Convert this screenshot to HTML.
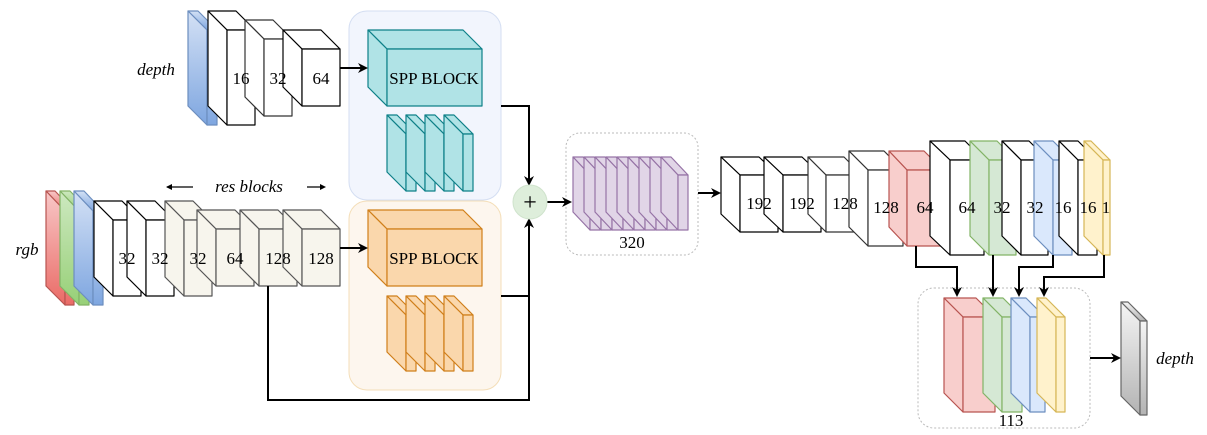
<!DOCTYPE html>
<html><head><meta charset="utf-8"><style>html,body{margin:0;background:#fff}svg{display:block}text{font-family:"Liberation Serif",serif;font-size:17px;fill:#000}</style></head><body>
<svg width="1207" height="435" viewBox="0 0 1207 435" xmlns="http://www.w3.org/2000/svg">
<defs>
<marker id="ah" markerWidth="10" markerHeight="10" refX="8" refY="5" orient="auto" markerUnits="userSpaceOnUse"><path d="M0,0 L10,5 L0,10 L3,5 z" fill="#000"/></marker>
<linearGradient id="gb" x1="0" y1="0" x2="0" y2="1"><stop offset="0" stop-color="#d4e1f5"/><stop offset="1" stop-color="#7ea6e0"/></linearGradient>
<linearGradient id="gr" x1="0" y1="0" x2="0" y2="1"><stop offset="0" stop-color="#f8c8c8"/><stop offset="1" stop-color="#ea6b66"/></linearGradient>
<linearGradient id="gg" x1="0" y1="0" x2="0" y2="1"><stop offset="0" stop-color="#cde8c0"/><stop offset="1" stop-color="#97d077"/></linearGradient>
<linearGradient id="gbl" x1="0" y1="0" x2="0" y2="1"><stop offset="0" stop-color="#d4e1f5"/><stop offset="1" stop-color="#7ea6e0"/></linearGradient>
<linearGradient id="ggr" x1="0" y1="0" x2="0" y2="1"><stop offset="0" stop-color="#f5f5f5"/><stop offset="1" stop-color="#b3b3b3"/></linearGradient>
</defs>
<rect x="349" y="11" width="152" height="189" rx="18" fill="#f2f5fd" stroke="#d4def2"/>
<rect x="349" y="201" width="152" height="189" rx="18" fill="#fdf6ee" stroke="#f4deb8"/>
<rect x="566" y="133" width="132" height="122" rx="14" fill="#fff" stroke="#bbb" stroke-dasharray="2,2"/>
<rect x="918" y="288" width="172" height="140" rx="16" fill="#fff" stroke="#bbb" stroke-dasharray="2,2"/>

<g stroke-width="1.2" stroke-linejoin="round">
<g fill="url(#gb)" stroke="#6c8ebf"><polygon points="188,11 198,11 217,30 207,30"/><polygon points="188,11 207,30 207,125 188,106"/><rect x="207" y="30" width="10" height="95"/></g>
<g fill="#fff" stroke="#000"><polygon points="208,11 236,11 255,30 227,30"/><polygon points="208,11 227,30 227,125 208,106"/><rect x="227" y="30" width="28" height="95"/></g>
<g fill="#fff" stroke="#333"><polygon points="245,20 273,20 292,39 264,39"/><polygon points="245,20 264,39 264,116 245,97"/><rect x="264" y="39" width="28" height="77"/></g>
<g fill="#fff" stroke="#000"><polygon points="283,30 321,30 340,49 302,49"/><polygon points="283,30 302,49 302,106 283,87"/><rect x="302" y="49" width="38" height="57"/></g>
<g fill="#b0e3e6" stroke="#0e8088"><polygon points="368,30 463,30 482,49 387,49"/><polygon points="368,30 387,49 387,106 368,87"/><rect x="387" y="49" width="95" height="57"/></g>
<g fill="#b0e3e6" stroke="#0e8088">
<polygon points="387,115 397,115 416,134 406,134"/><polygon points="387,115 406,134 406,191 387,172"/><rect x="406" y="134" width="10" height="57"/>
<polygon points="406,115 416,115 435,134 425,134"/><polygon points="406,115 425,134 425,191 406,172"/><rect x="425" y="134" width="10" height="57"/>
<polygon points="425,115 435,115 454,134 444,134"/><polygon points="425,115 444,134 444,191 425,172"/><rect x="444" y="134" width="10" height="57"/>
<polygon points="444,115 454,115 473,134 463,134"/><polygon points="444,115 463,134 463,191 444,172"/><rect x="463" y="134" width="10" height="57"/>
</g>
<g fill="url(#gr)" stroke="#b85450"><polygon points="46,191 55,191 74,211 65,211"/><polygon points="46,191 65,211 65,305 46,286"/><rect x="65" y="211" width="9" height="94"/></g>
<g fill="url(#gg)" stroke="#82b366"><polygon points="60,191 70,191 89,211 79,211"/><polygon points="60,191 79,211 79,305 60,286"/><rect x="79" y="211" width="10" height="94"/></g>
<g fill="url(#gbl)" stroke="#6c8ebf"><polygon points="74,191 84,191 103,211 93,211"/><polygon points="74,191 93,211 93,305 74,286"/><rect x="93" y="211" width="10" height="94"/></g>
<g fill="#fff" stroke="#000"><polygon points="94,201 122,201 141,220 113,220"/><polygon points="94,201 113,220 113,296 94,277"/><rect x="113" y="220" width="28" height="76"/></g>
<g fill="#fff" stroke="#000"><polygon points="127,201 155,201 174,220 146,220"/><polygon points="127,201 146,220 146,296 127,277"/><rect x="146" y="220" width="28" height="76"/></g>
<g fill="#f7f5ed" stroke="#555"><polygon points="165,201 193,201 212,220 184,220"/><polygon points="165,201 184,220 184,296 165,277"/><rect x="184" y="220" width="28" height="76"/></g>
<g fill="#f7f5ed" stroke="#555"><polygon points="197,210 235,210 254,229 216,229"/><polygon points="197,210 216,229 216,286 197,267"/><rect x="216" y="229" width="38" height="57"/></g>
<g fill="#f7f5ed" stroke="#555"><polygon points="240,210 278,210 297,229 259,229"/><polygon points="240,210 259,229 259,286 240,267"/><rect x="259" y="229" width="38" height="57"/></g>
<g fill="#f7f5ed" stroke="#555"><polygon points="283,210 321,210 340,229 302,229"/><polygon points="283,210 302,229 302,286 283,267"/><rect x="302" y="229" width="38" height="57"/></g>
<g fill="#fad7ac" stroke="#d07f1a"><polygon points="368,210 463,210 482,229 387,229"/><polygon points="368,210 387,229 387,286 368,267"/><rect x="387" y="229" width="95" height="57"/></g>
<g fill="#fad7ac" stroke="#d07f1a">
<polygon points="387,296 397,296 416,315 406,315"/><polygon points="387,296 406,315 406,371 387,352"/><rect x="406" y="315" width="10" height="56"/>
<polygon points="406,296 416,296 435,315 425,315"/><polygon points="406,296 425,315 425,371 406,352"/><rect x="425" y="315" width="10" height="56"/>
<polygon points="425,296 435,296 454,315 444,315"/><polygon points="425,296 444,315 444,371 425,352"/><rect x="444" y="315" width="10" height="56"/>
<polygon points="444,296 454,296 473,315 463,315"/><polygon points="444,296 463,315 463,371 444,352"/><rect x="463" y="315" width="10" height="56"/>
</g>
<g fill="#e1d5e7" stroke="#9673a6">
<polygon points="573,157 583,157 600,175 590,175"/><polygon points="573,157 590,175 590,230 573,212"/><rect x="590" y="175" width="10" height="55"/>
<polygon points="584,157 594,157 611,175 601,175"/><polygon points="584,157 601,175 601,230 584,212"/><rect x="601" y="175" width="10" height="55"/>
<polygon points="595,157 605,157 622,175 612,175"/><polygon points="595,157 612,175 612,230 595,212"/><rect x="612" y="175" width="10" height="55"/>
<polygon points="606,157 616,157 633,175 623,175"/><polygon points="606,157 623,175 623,230 606,212"/><rect x="623" y="175" width="10" height="55"/>
<polygon points="617,157 627,157 644,175 634,175"/><polygon points="617,157 634,175 634,230 617,212"/><rect x="634" y="175" width="10" height="55"/>
<polygon points="628,157 638,157 655,175 645,175"/><polygon points="628,157 645,175 645,230 628,212"/><rect x="645" y="175" width="10" height="55"/>
<polygon points="639,157 649,157 666,175 656,175"/><polygon points="639,157 656,175 656,230 639,212"/><rect x="656" y="175" width="10" height="55"/>
<polygon points="650,157 660,157 677,175 667,175"/><polygon points="650,157 667,175 667,230 650,212"/><rect x="667" y="175" width="10" height="55"/>
<polygon points="661,157 671,157 688,175 678,175"/><polygon points="661,157 678,175 678,230 661,212"/><rect x="678" y="175" width="10" height="55"/>
</g>
<g fill="#fff" stroke="#000"><polygon points="721,157 759,157 778,175 740,175"/><polygon points="721,157 740,175 740,232 721,214"/><rect x="740" y="175" width="38" height="57"/></g>
<g fill="#fff" stroke="#000"><polygon points="764,157 802,157 821,175 783,175"/><polygon points="764,157 783,175 783,232 764,214"/><rect x="783" y="175" width="38" height="57"/></g>
<g fill="#fff" stroke="#333"><polygon points="808,157 844,157 862,175 826,175"/><polygon points="808,157 826,175 826,232 808,214"/><rect x="826" y="175" width="36" height="57"/></g>
<g fill="#fff" stroke="#333"><polygon points="849,151 884,151 903,170 868,170"/><polygon points="849,151 868,170 868,246 849,227"/><rect x="868" y="170" width="35" height="76"/></g>
<g fill="#f8cecc" stroke="#b85450"><polygon points="889,151 924,151 943,170 907,170"/><polygon points="889,151 907,170 907,246 889,227"/><rect x="907" y="170" width="36" height="76"/></g>
<g fill="#fff" stroke="#000"><polygon points="930,141 965,141 984,160 950,160"/><polygon points="930,141 950,160 950,255 930,236"/><rect x="950" y="160" width="34" height="95"/></g>
<g fill="#d5e8d4" stroke="#82b366"><polygon points="970,141 997,141 1016,160 989,160"/><polygon points="970,141 989,160 989,255 970,236"/><rect x="989" y="160" width="27" height="95"/></g>
<g fill="#fff" stroke="#000"><polygon points="1002,141 1029,141 1048,160 1021,160"/><polygon points="1002,141 1021,160 1021,255 1002,236"/><rect x="1021" y="160" width="27" height="95"/></g>
<g fill="#dae8fc" stroke="#6c8ebf"><polygon points="1034,141 1053,141 1072,160 1053,160"/><polygon points="1034,141 1053,160 1053,255 1034,236"/><rect x="1053" y="160" width="19" height="95"/></g>
<g fill="#fff" stroke="#000"><polygon points="1059,141 1078,141 1097,160 1078,160"/><polygon points="1059,141 1078,160 1078,255 1059,236"/><rect x="1078" y="160" width="19" height="95"/></g>
<g fill="#fff2cc" stroke="#d6b656"><polygon points="1084,141 1091,141 1110,160 1103,160"/><polygon points="1084,141 1103,160 1103,255 1084,236"/><rect x="1103" y="160" width="7" height="95"/></g>
<g fill="#f8cecc" stroke="#b85450"><polygon points="944,298 976,298 995,317 963,317"/><polygon points="944,298 963,317 963,412 944,393"/><rect x="963" y="317" width="32" height="95"/></g>
<g fill="#d5e8d4" stroke="#82b366"><polygon points="983,298 1003,298 1022,317 1002,317"/><polygon points="983,298 1002,317 1002,412 983,393"/><rect x="1002" y="317" width="20" height="95"/></g>
<g fill="#dae8fc" stroke="#6c8ebf"><polygon points="1011,298 1026,298 1045,317 1030,317"/><polygon points="1011,298 1030,317 1030,412 1011,393"/><rect x="1030" y="317" width="15" height="95"/></g>
<g fill="#fff2cc" stroke="#d6b656"><polygon points="1037,298 1046,298 1065,317 1056,317"/><polygon points="1037,298 1056,317 1056,412 1037,393"/><rect x="1056" y="317" width="9" height="95"/></g>
<g fill="url(#ggr)" stroke="#666"><polygon points="1121,302 1128,302 1147,321 1140,321"/><polygon points="1121,302 1140,321 1140,415 1121,396"/><rect x="1140" y="321" width="7" height="94"/></g>
</g>

<g stroke="#000" stroke-width="2" fill="none">
<line x1="340" y1="68" x2="366" y2="68" marker-end="url(#ah)"/>
<line x1="340" y1="248" x2="366" y2="248" marker-end="url(#ah)"/>
<polyline points="501,106 529,106 529,184" marker-end="url(#ah)"/>
<polyline points="501,296 529,296 529,220" marker-end="url(#ah)"/>
<polyline points="268,286 268,400 529,400 529,296"/>
<line x1="547" y1="202" x2="570" y2="202" marker-end="url(#ah)"/>
<line x1="698" y1="193" x2="719" y2="193" marker-end="url(#ah)"/>
<polyline points="916,246 916,267 957,267 957,295" marker-end="url(#ah)"/>
<polyline points="993,255 993,295" marker-end="url(#ah)"/>
<polyline points="1053,255 1053,267 1019,267 1019,295" marker-end="url(#ah)"/>
<polyline points="1104,255 1104,277 1044,277 1044,295" marker-end="url(#ah)"/>
<line x1="1090" y1="358" x2="1119" y2="358" marker-end="url(#ah)"/>
</g>
<g stroke="#000" stroke-width="1.2" fill="none">
<line x1="167" y1="187" x2="193" y2="187"/>
<line x1="307" y1="187" x2="324" y2="187"/>
</g>
<path d="M166,187 l6,-3 v6 z" fill="#000"/><path d="M326,187 l-6,-3 v6 z" fill="#000"/>
<circle cx="530" cy="202" r="17" fill="#deeedb" stroke="#cfe3cc"/>
<text x="530" y="210" text-anchor="middle" style="font-size:24px">+</text>

<g>
<text x="156" y="75" text-anchor="middle" font-style="italic">depth</text>
<text x="27" y="255" text-anchor="middle" font-style="italic">rgb</text>
<text x="249" y="192" text-anchor="middle" font-style="italic">res blocks</text>
<text x="1175" y="364" text-anchor="middle" font-style="italic">depth</text>
<text x="241" y="84" text-anchor="middle">16</text>
<text x="278" y="84" text-anchor="middle">32</text>
<text x="321" y="84" text-anchor="middle">64</text>
<text x="434" y="84" text-anchor="middle">SPP BLOCK</text>
<text x="434" y="264" text-anchor="middle">SPP BLOCK</text>
<text x="127" y="264" text-anchor="middle">32</text>
<text x="160" y="264" text-anchor="middle">32</text>
<text x="198" y="264" text-anchor="middle">32</text>
<text x="235" y="264" text-anchor="middle">64</text>
<text x="278" y="264" text-anchor="middle">128</text>
<text x="321" y="264" text-anchor="middle">128</text>
<text x="632" y="248" text-anchor="middle">320</text>
<text x="759" y="209" text-anchor="middle">192</text>
<text x="802" y="209" text-anchor="middle">192</text>
<text x="845" y="209" text-anchor="middle">128</text>
<text x="886" y="213" text-anchor="middle">128</text>
<text x="925" y="213" text-anchor="middle">64</text>
<text x="967" y="213" text-anchor="middle">64</text>
<text x="1002" y="213" text-anchor="middle">32</text>
<text x="1035" y="213" text-anchor="middle">32</text>
<text x="1063" y="213" text-anchor="middle">16</text>
<text x="1088" y="213" text-anchor="middle">16</text>
<text x="1106" y="213" text-anchor="middle">1</text>
<text x="1011" y="426" text-anchor="middle">113</text>
</g>
</svg>
</body></html>
